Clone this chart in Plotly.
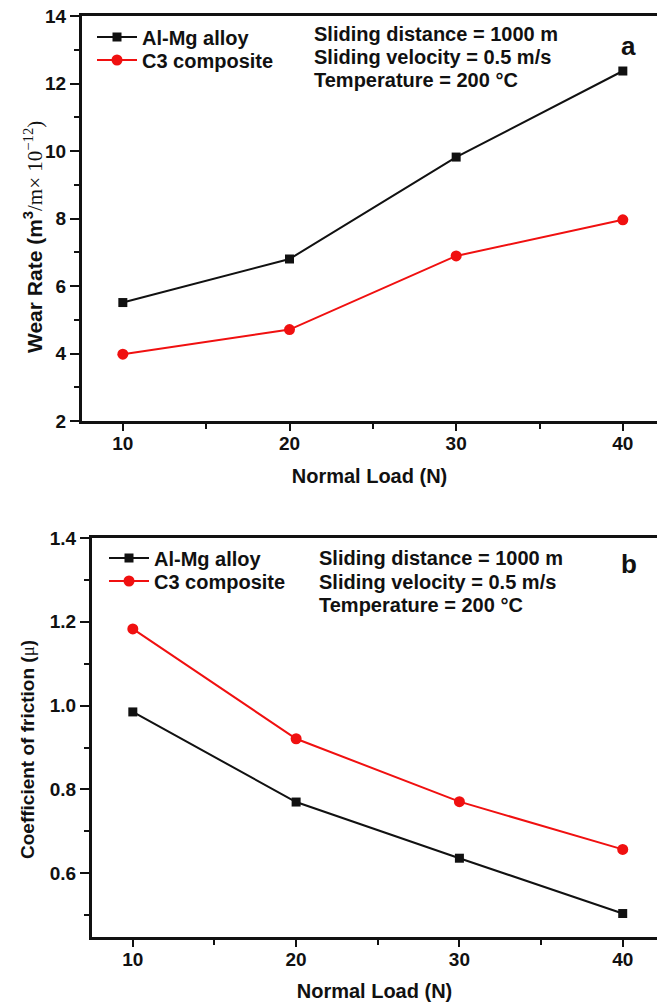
import plotly.graph_objects as go

loads = [10, 20, 30, 40]
wear_almg = [5.51, 6.80, 9.82, 12.37]
wear_c3 = [3.98, 4.71, 6.89, 7.96]
cof_almg = [0.985, 0.770, 0.636, 0.504]
cof_c3 = [1.183, 0.921, 0.771, 0.657]
x_ticks = [10, 20, 30, 40]
wear_ticks = [2, 4, 6, 8, 10, 12, 14]
cof_ticks = [0.6, 0.8, 1.0, 1.2, 1.4]
series_names = ["Al-Mg alloy", "C3 composite"]
conditions = ["Sliding distance = 1000 m", "Sliding velocity = 0.5 m/s", "Temperature = 200 °C"]
wear_title = ("Wear Rate (m<sup>3</sup><span style='font-family:Liberation Serif;font-weight:normal'>"
              "/m× 10<sup>−12</sup>)</span>")
cof_title = "Coefficient of friction (<span style='font-family:Liberation Serif;font-weight:normal'>μ</span>)"
x_title = "Normal Load (N)"

FONT = "Liberation Sans, Arial, sans-serif"
BLACK = "#111111"
RED = "#f01010"

fig = go.Figure()

def add_pair(xa, ya, lg1, lg2, y1, y2):
    fig.add_trace(go.Scatter(x=loads, y=y1, name=series_names[0], mode="lines+markers",
                             line=dict(color=BLACK, width=2), marker=dict(symbol="square", size=9, color=BLACK),
                             xaxis=xa, yaxis=ya, legend=lg1))
    fig.add_trace(go.Scatter(x=loads, y=y2, name=series_names[1], mode="lines+markers",
                             line=dict(color=RED, width=2), marker=dict(symbol="circle", size=11, color=RED),
                             xaxis=xa, yaxis=ya, legend=lg2))

add_pair("x", "y", "legend", "legend3", wear_almg, wear_c3)
add_pair("x2", "y2", "legend2", "legend4", cof_almg, cof_c3)

W, H = 657, 1002
def px(x):
    return x / W
def py(y):
    return 1 - y / H

tickfont = dict(family=FONT, size=19, color=BLACK, weight="bold")
titlefont = dict(family=FONT, size=20, color=BLACK, weight="bold")
minor_style = dict(ticks="outside", ticklen=5, tickwidth=2, tickcolor=BLACK, showgrid=False)

common_x = dict(tickmode="array", tickvals=x_ticks, ticks="outside", ticklen=7, tickwidth=2,
                tickcolor=BLACK, showline=True, linewidth=3, linecolor=BLACK, mirror=True,
                showgrid=False, zeroline=False, tickfont=tickfont, ticklabelstandoff=-4,
                minor=dict(dtick=5, tick0=5, **minor_style),
                title=dict(text=x_title, font=titlefont, standoff=17), automargin=False)
common_y = dict(ticks="outside", ticklen=9, tickwidth=2, tickcolor=BLACK, showline=True,
                linewidth=3, linecolor=BLACK, mirror=False, showgrid=False, zeroline=False,
                tickfont=tickfont, automargin=False)

legend_font = dict(family=FONT, size=20, color=BLACK, weight="bold")
def leg(x, y):
    return dict(x=px(x), y=py(y), xanchor="left", yanchor="middle", bgcolor="rgba(0,0,0,0)",
                font=legend_font, itemwidth=40, borderwidth=0)

fig.update_layout(
    width=W, height=H,
    margin=dict(l=0, r=0, t=0, b=0),
    paper_bgcolor="white", plot_bgcolor="white",
    font=dict(family=FONT, color=BLACK),
    xaxis=dict(domain=[px(82), 1.0], range=[7.55, 42.05], anchor="y", **common_x),
    yaxis=dict(domain=[py(421), py(16)], range=[2, 14], anchor="x",
               tickmode="array", tickvals=wear_ticks,
               minor=dict(dtick=1, tick0=1, **minor_style), **common_y),
    xaxis2=dict(domain=[px(92), 1.0], range=[7.5, 42.1], anchor="y2", **common_x),
    yaxis2=dict(domain=[py(937), py(538)], range=[0.448, 1.4], anchor="x2",
                tickmode="array", tickvals=cof_ticks, tickformat=".1f",
                minor=dict(dtick=0.2, tick0=0.5, **minor_style), **common_y),
    legend=leg(92, 37),
    legend3=leg(92, 60),
    legend2=leg(104, 558),
    legend4=leg(104, 581),
    showlegend=True,
)

fig.add_annotation(x=px(33), y=py(237), xref="paper", yref="paper", text=wear_title, textangle=-90,
                   showarrow=False, xanchor="center", yanchor="middle",
                   font=dict(family=FONT, size=21, color=BLACK, weight="bold"))
fig.add_annotation(x=px(27), y=py(750), xref="paper", yref="paper", text=cof_title, textangle=-90,
                   showarrow=False, xanchor="center", yanchor="middle",
                   font=dict(family=FONT, size=19, color=BLACK, weight="bold"))

ann_font = dict(family=FONT, size=20, color=BLACK, weight="bold")
for i, txt in enumerate(conditions):
    fig.add_annotation(x=px(312), y=py(34 + 23 * i), xref="paper", yref="paper", text=txt,
                       showarrow=False, xanchor="left", yanchor="middle", font=ann_font)
    fig.add_annotation(x=px(317), y=py(558 + 23.5 * i), xref="paper", yref="paper", text=txt,
                       showarrow=False, xanchor="left", yanchor="middle", font=ann_font)

fig.add_annotation(x=px(628), y=py(46), xref="paper", yref="paper", text="a", showarrow=False,
                   xanchor="center", yanchor="middle", font=dict(family=FONT, size=26, color=BLACK, weight="bold"))
fig.add_annotation(x=px(629), y=py(564), xref="paper", yref="paper", text="b", showarrow=False,
                   xanchor="center", yanchor="middle", font=dict(family=FONT, size=26, color=BLACK, weight="bold"))

fig.write_html("out.html")
